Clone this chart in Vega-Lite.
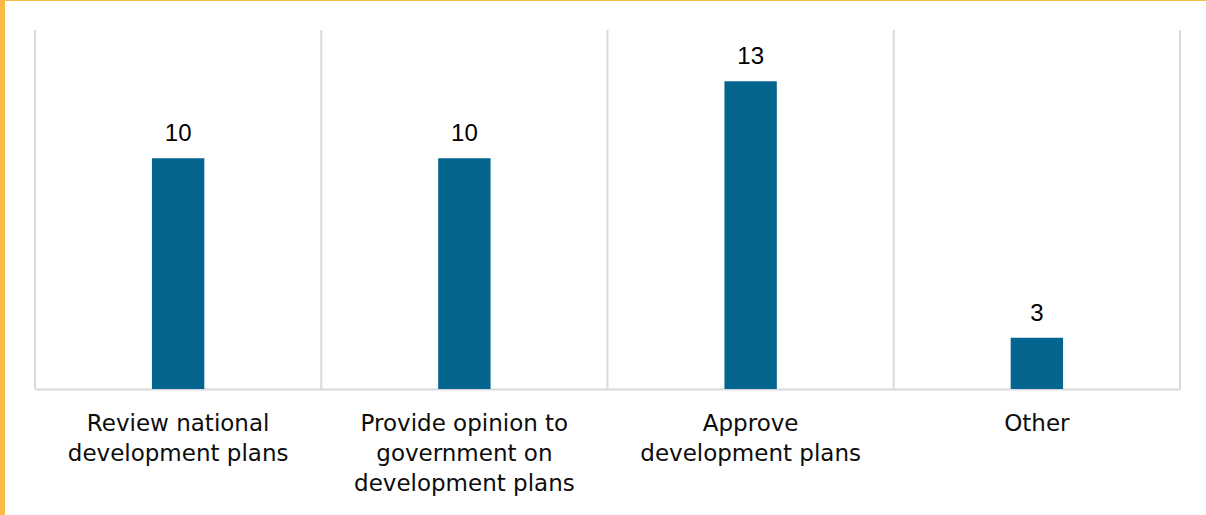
{
  "$schema": "https://vega.github.io/schema/vega-lite/v6.json",
  "width": 1206,
  "height": 519,
  "autosize": "none",
  "padding": {"left": 0, "top": -4, "right": 0, "bottom": 0},
  "background": "white",
  "config": {
    "view": {"stroke": "#FBB948", "strokeWidth": 10, "strokeDash": [1206, 1725, 519]}
  },
  "data": {
    "values": [
      {"role": "Review national development plans", "count": 10},
      {"role": "Provide opinion to government on development plans", "count": 10},
      {"role": "Approve development plans", "count": 13},
      {"role": "Other", "count": 3}
    ]
  },
  "encoding": {
    "x": {
      "field": "role",
      "type": "nominal",
      "sort": null,
      "scale": {"paddingInner": 0, "paddingOuter": 0, "range": [35, 1180]},
      "axis": {
        "title": null,
        "labelAngle": 0,
        "offset": -126,
        "grid": false,
        "domainColor": "#d9d9d9",
        "domainWidth": 2,
        "ticks": false,
        "labelFont": "DejaVu Sans",
        "labelFontSize": 23,
        "labelColor": "#0d0d0d",
        "labelLineHeight": 30,
        "labelPadding": 23,
        "labelLimit": 0,
        "labelBaseline": "top",
        "labelExpr": "datum.label == 'Review national development plans' ? ['Review national', 'development plans'] : datum.label == 'Provide opinion to government on development plans' ? ['Provide opinion to', 'government on', 'development plans'] : datum.label == 'Approve development plans' ? ['Approve', 'development plans'] : datum.label"
      }
    },
    "y": {
      "field": "count",
      "type": "quantitative",
      "scale": {"domain": [1, 15], "zero": false, "nice": false, "range": [393, 34]},
      "axis": null
    }
  },
  "layer": [
    {
      "mark": {"type": "rule", "color": "#d9d9d9", "strokeWidth": 2},
      "encoding": {
        "x": {"field": "role", "type": "nominal", "sort": null, "bandPosition": 0},
        "y": {"datum": 1},
        "y2": {"datum": 15}
      }
    },
    {
      "transform": [{"filter": "datum.role == 'Other'"}],
      "mark": {"type": "rule", "color": "#d9d9d9", "strokeWidth": 2},
      "encoding": {
        "x": {"field": "role", "type": "nominal", "sort": null, "bandPosition": 1},
        "y": {"datum": 1},
        "y2": {"datum": 15}
      }
    },
    {
      "mark": {"type": "bar", "color": "#04668f", "width": {"band": 0.183}},
      "encoding": {"y2": {"datum": 1}}
    },
    {
      "mark": {"type": "text", "font": "Liberation Sans", "fontSize": 24, "color": "#000000", "baseline": "alphabetic", "dy": -17},
      "encoding": {"text": {"field": "count", "type": "quantitative"}}
    }
  ]
}
